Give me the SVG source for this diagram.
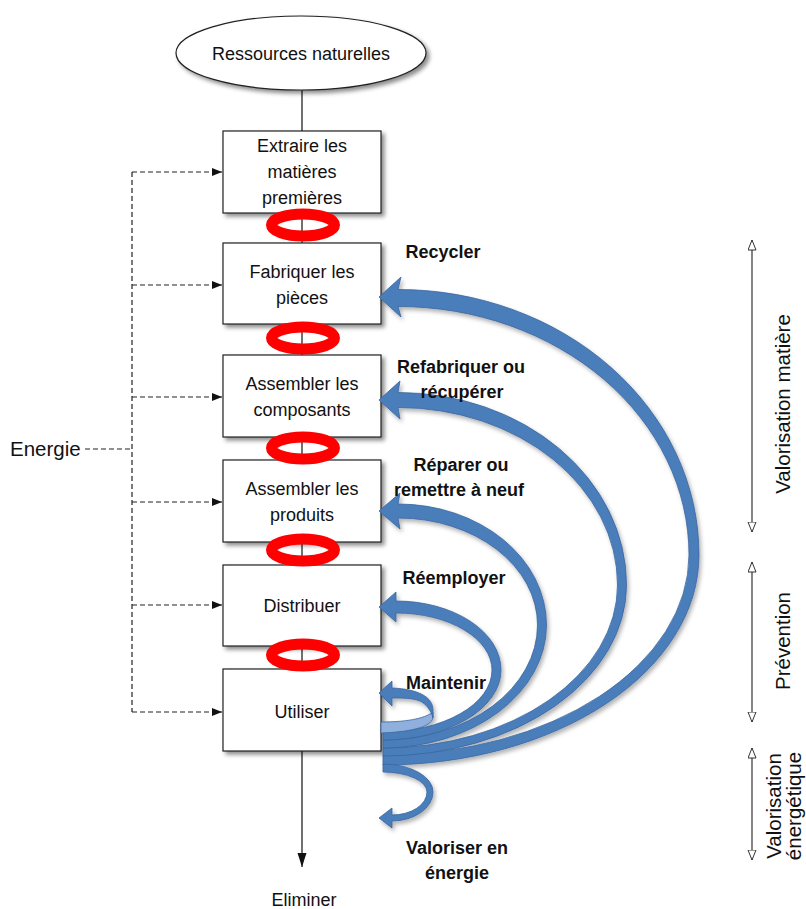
<svg xmlns="http://www.w3.org/2000/svg" width="806" height="909" viewBox="0 0 806 909">
<style>
text{font-family:"Liberation Sans",Arial,sans-serif;fill:#111}
.box{fill:#fff;stroke:#222;stroke-width:1.2}
.t{font-size:18px;text-anchor:middle}
.b{font-size:18px;font-weight:bold;text-anchor:middle}
.side{font-size:20.5px;text-anchor:middle}
.ring{fill:none;stroke:#ff0000;stroke-width:11}
.dash{fill:none;stroke:#222;stroke-width:1.2;stroke-dasharray:5 3}
.blue{fill:#4a7ebb;stroke:#3a659e;stroke-width:0.8}
.light{fill:#8fb0dc;stroke:#3a659e;stroke-width:0.8}
.dbl{fill:none;stroke:#333;stroke-width:1.2}
</style>
<defs>
<filter id="sh" x="-10%" y="-10%" width="130%" height="130%">
<feDropShadow dx="3" dy="3" stdDeviation="2" flood-color="#000" flood-opacity="0.45"/>
</filter>
<filter id="bsh" x="-10%" y="-10%" width="130%" height="130%">
<feDropShadow dx="2" dy="3" stdDeviation="2" flood-color="#000" flood-opacity="0.3"/>
</filter>
<marker id="ah" markerUnits="userSpaceOnUse" markerWidth="11" markerHeight="9" refX="10" refY="4" orient="auto">
<path d="M0,0 L10,4 L0,8 Z" fill="#111"/>
</marker>
<marker id="ahl" markerUnits="userSpaceOnUse" markerWidth="15" markerHeight="10" refX="14" refY="4.5" orient="auto">
<path d="M0,0 L14,4.5 L0,9 Z" fill="#111"/>
</marker>
<marker id="open" markerUnits="userSpaceOnUse" markerWidth="12" markerHeight="10" refX="10.5" refY="4.5" orient="auto-start-reverse">
<path d="M0.5,0.5 L10.5,4.5 L0.5,8.5 Z" fill="#fff" stroke="#333" stroke-width="1"/>
</marker>
</defs>
<rect width="806" height="909" fill="#fff"/>

<g id="connectors">
<line x1="302" y1="90" x2="302" y2="131" stroke="#111" stroke-width="1.2"/>
<line x1="302" y1="213" x2="302" y2="243" stroke="#111" stroke-width="1.2"/>
<line x1="302" y1="324" x2="302" y2="355" stroke="#111" stroke-width="1.2"/>
<line x1="302" y1="437" x2="302" y2="460" stroke="#111" stroke-width="1.2"/>
<line x1="302" y1="542" x2="302" y2="565" stroke="#111" stroke-width="1.2"/>
<line x1="302" y1="646" x2="302" y2="669" stroke="#111" stroke-width="1.2"/>
<line x1="302" y1="751" x2="302" y2="867" stroke="#111" stroke-width="1.2" marker-end="url(#ahl)"/>
<path class="dash" d="M85,449 H132 M132,172 V712"/>
<line class="dash" x1="132" y1="172" x2="222" y2="172" marker-end="url(#ah)"/>
<line class="dash" x1="132" y1="285" x2="222" y2="285" marker-end="url(#ah)"/>
<line class="dash" x1="132" y1="397" x2="222" y2="397" marker-end="url(#ah)"/>
<line class="dash" x1="132" y1="502" x2="222" y2="502" marker-end="url(#ah)"/>
<line class="dash" x1="132" y1="605" x2="222" y2="605" marker-end="url(#ah)"/>
<line class="dash" x1="132" y1="712" x2="222" y2="712" marker-end="url(#ah)"/>
<line class="dbl" x1="752" y1="240" x2="752" y2="532" marker-start="url(#open)" marker-end="url(#open)"/>
<line class="dbl" x1="752" y1="562" x2="752" y2="722" marker-start="url(#open)" marker-end="url(#open)"/>
<line class="dbl" x1="752" y1="748" x2="752" y2="860" marker-start="url(#open)" marker-end="url(#open)"/>
</g>

<g id="ressources">
<ellipse cx="301" cy="53" rx="125" ry="37" class="box" filter="url(#sh)"/>
<text class="t" x="301" y="60">Ressources naturelles</text>
</g>
<g id="extraire">
<rect class="box" x="223" y="131" width="158" height="82" filter="url(#sh)"/>
<text class="t" x="302" y="152">Extraire les</text>
<text class="t" x="302" y="178">matières</text>
<text class="t" x="302" y="204">premières</text>
</g>
<g id="fabriquer">
<rect class="box" x="223" y="243" width="158" height="81" filter="url(#sh)"/>
<text class="t" x="302" y="278">Fabriquer les</text>
<text class="t" x="302" y="304">pièces</text>
</g>
<g id="assembler-composants">
<rect class="box" x="223" y="355" width="158" height="82" filter="url(#sh)"/>
<text class="t" x="302" y="390">Assembler les</text>
<text class="t" x="302" y="416">composants</text>
</g>
<g id="assembler-produits">
<rect class="box" x="223" y="460" width="158" height="82" filter="url(#sh)"/>
<text class="t" x="302" y="495">Assembler les</text>
<text class="t" x="302" y="521">produits</text>
</g>
<g id="distribuer">
<rect class="box" x="223" y="565" width="158" height="81" filter="url(#sh)"/>
<text class="t" x="302" y="612">Distribuer</text>
</g>
<g id="utiliser">
<rect class="box" x="223" y="669" width="158" height="82" filter="url(#sh)"/>
<text class="t" x="302" y="718">Utiliser</text>
</g>
<g id="eliminer">
<text class="t" x="304" y="906">Eliminer</text>
</g>
<g id="energie">
<text x="10" y="456" style="font-size:20.5px">Energie</text>
</g>

<g id="rings">
<ellipse class="ring" cx="303" cy="225" rx="31.5" ry="11"/>
<ellipse class="ring" cx="303" cy="338" rx="31.5" ry="11"/>
<ellipse class="ring" cx="303" cy="448" rx="31.5" ry="11"/>
<ellipse class="ring" cx="303" cy="550" rx="31.5" ry="11"/>
<ellipse class="ring" cx="303" cy="655" rx="31.5" ry="11"/>
</g>

<g id="loops" filter="url(#bsh)">
<path id="recycler" class="blue" d="M379,297 L401,277 L398,289.5 A301,265.5 0 0 1 699,555 A316,210 0 0 1 383,765 L383,755 A306,200 0 0 0 689,555 A291,248.5 0 0 0 398,306.5 L401,317 Z"/>
<path id="refabriquer" class="blue" d="M379,400 L400,381 L398,392.5 A228.5,192.5 0 0 1 626.5,585 A243.5,171 0 0 1 383,756 L383,748 A234.5,163 0 0 0 617.5,585 A219.5,177.5 0 0 0 398,407.5 L400,419 Z"/>
<path id="reparer" class="blue" d="M379,511 L400,493 L398,504 A148.5,121 0 0 1 546.5,625 A163.5,123 0 0 1 383,748 L383,740 A154.5,115 0 0 0 537.5,625 A139.5,107 0 0 0 398,518 L400,529 Z"/>
<path id="reemployer" class="blue" d="M379,607 L396,592 L396,601 A105,69 0 0 1 501,670 A118,70 0 0 1 383,740 L383,732 A109,62 0 0 0 492,670 A96,57 0 0 0 396,613 L396,622 Z"/>
<path id="maintenir-light" class="light" d="M381,722 C405,722 424,719 433,712 L433,718 C431,727 410,732 381,733 Z"/>
<path id="maintenir" class="blue" d="M379,693 L392,681 L392,688 C418,689 433,697 433,710 L433,718 C431,710 426,704 420,701 C412,698 404,698 392,698 L392,706 Z"/>
<path id="valoriser" class="blue" d="M383,764 A50,28 0 0 1 433,792 A41,29 0 0 1 392,821 L392,828 L379,818 L392,808 L392,815 A35,23 0 0 0 427,792 A44,20 0 0 0 383,772 Z"/>
</g>

<g id="labels">
<text class="b" x="443" y="258">Recycler</text>
<text class="b" x="461" y="373">Refabriquer ou</text>
<text class="b" x="462" y="398">récupérer</text>
<text class="b" x="461" y="471">Réparer ou</text>
<text class="b" x="459" y="496">remettre à neuf</text>
<text class="b" x="454" y="584">Réemployer</text>
<text class="b" x="446" y="689">Maintenir</text>
<text class="b" x="457" y="854">Valoriser en</text>
<text class="b" x="457" y="879">énergie</text>
</g>

<g id="side-labels">
<text class="side" transform="translate(790,404) rotate(-90)">Valorisation matière</text>
<text class="side" transform="translate(790,641) rotate(-90)">Prévention</text>
<text class="side" transform="translate(781,806) rotate(-90)">Valorisation</text>
<text class="side" transform="translate(801,806) rotate(-90)">énergétique</text>
</g>
</svg>
